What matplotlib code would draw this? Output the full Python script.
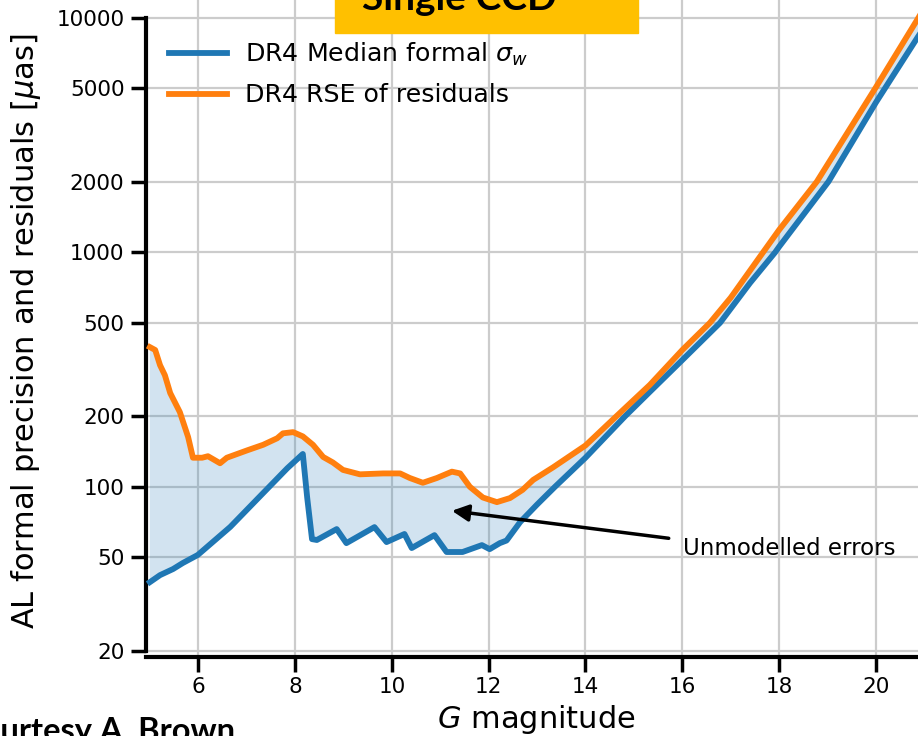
import numpy as np
import matplotlib
matplotlib.use("Agg")
import matplotlib.pyplot as plt
from matplotlib.patches import Rectangle
from matplotlib.ticker import NullLocator

# ----------------------------
# Data: single-CCD along-scan precision vs G magnitude
# ----------------------------
g_formal = [5.0, 5.21, 5.48, 5.68, 5.99, 6.66, 7.34, 7.84, 8.16, 8.25, 8.35, 8.45,
            8.86, 9.06, 9.64, 9.89, 10.26, 10.41, 10.88, 11.13, 11.46, 11.86, 12.02,
            12.23, 12.37, 12.65, 13.0, 13.37, 14.0, 14.82, 15.33, 16.0, 16.78, 17.4,
            17.92, 18.0, 19.02, 20.0, 20.87, 21.0]
sigma_formal = [39.2, 42.0, 44.6, 47.3, 51.2, 67.4, 94, 120, 138, 90, 59.8, 59.3,
                66, 57.5, 67.3, 58.1, 62.9, 54.8, 62.2, 52.7, 52.7, 56.4, 54.2,
                57.5, 59, 70.7, 84, 100, 133, 200, 254, 347, 500, 740,
                1000, 1055, 2000, 4350, 8300, 9100]

g_rse = [5.0, 5.11, 5.21, 5.31, 5.42, 5.62, 5.79, 5.89, 6.08, 6.2, 6.45, 6.59,
         7.01, 7.34, 7.63, 7.75, 7.96, 8.16, 8.37, 8.58, 8.78, 8.99, 9.34, 9.82,
         10.17, 10.37, 10.64, 10.93, 11.24, 11.41, 11.61, 11.88, 12.17, 12.44,
         12.7, 12.92, 13.33, 14.0, 14.64, 15.33, 16.0, 16.57, 17.0, 17.67, 18.0,
         18.78, 20.0, 20.87, 21.0]
rse_resid = [394, 383, 330, 299, 251, 208, 163, 133, 133, 135, 126, 133,
             143, 151, 161, 169, 171, 164, 151, 134, 127, 118, 113, 114,
             114, 109, 104, 109, 116, 114, 100, 90, 86, 89.5,
             97, 107, 121, 150, 200, 272, 383, 500, 640, 1000, 1245,
             2000, 5050, 9930, 11000]

xticks = [6, 8, 10, 12, 14, 16, 18, 20]
yticks = [20, 50, 100, 200, 500, 1000, 2000, 5000, 10000]

labels = [r"DR4 Median formal $\sigma_w$", "DR4 RSE of residuals"]

# ----------------------------
# Figure and axes
# ----------------------------
plt.rcParams["font.family"] = ["DejaVu Sans"]
fig = plt.figure(figsize=(9.18, 7.36), dpi=100)
ax = fig.add_axes([146 / 918, 79 / 736, 772 / 918, 657 / 736])

blue = "#1f77b4"
orange = "#ff7f0e"

# shaded gap between formal errors and residuals
poly_x = np.concatenate([g_formal, g_rse[::-1]])
poly_y = np.concatenate([sigma_formal, rse_resid[::-1]])
ax.fill(poly_x, poly_y, color=blue, alpha=0.2, linewidth=0, zorder=1)

ax.plot(g_formal, sigma_formal, color=blue, lw=4.2, label=labels[0], zorder=3,
        solid_joinstyle="round")
ax.plot(g_rse, rse_resid, color=orange, lw=4.2, label=labels[1], zorder=3,
        solid_joinstyle="round")

ax.set_yscale("log")
ax.set_xlim(4.92, 20.87)
ax.set_ylim(18.8, 11900)
ax.set_xticks(xticks)
ax.set_xticklabels([str(t) for t in xticks])
ax.set_yticks(yticks)
ax.set_yticklabels([str(t) for t in yticks])
ax.yaxis.set_minor_locator(NullLocator())

ax.grid(True, color="#cccccc", linewidth=1.6)
ax.set_axisbelow(True)

for side in ["top", "right"]:
    ax.spines[side].set_visible(False)
ax.spines["left"].set_bounds(20, 10000)
ax.spines["left"].set_linewidth(3)
ax.spines["bottom"].set_linewidth(3)
ax.tick_params(axis="both", which="major", labelsize=15.5, length=10.5, width=2.5,
               direction="out")
ax.tick_params(axis="y", pad=5)
ax.tick_params(axis="x", pad=4)

ax.set_ylabel(r"AL formal precision and residuals [$\mu$as]", fontsize=22)
ax.yaxis.set_label_coords(-0.133, 0.496)
ax.set_xlabel(r"$G$ magnitude", fontsize=22)
ax.xaxis.set_label_coords(0.506, -0.07)

ax.legend(loc="upper left", bbox_to_anchor=(0.0, 0.973), frameon=False,
          fontsize=18.2, handlelength=2.3, handletextpad=0.7, labelspacing=0.62)

# arrow pointing into the shaded region
ax.annotate("", xy=(11.24, 79), xytext=(15.72, 60.3),
            arrowprops=dict(arrowstyle="-|>,head_length=0.5,head_width=0.25",
                            color="black", lw=2.5, mutation_scale=20,
                            shrinkA=0, shrinkB=0), zorder=4)
ax.text(16.02, 54.8, "Unmodelled errors", fontsize=16.5, ha="left", va="center")

# slide title box and credit line
fig.patches.append(Rectangle((335 / 918, 1 - 32.7 / 736), 303 / 918, 40 / 736,
                             transform=fig.transFigure, color="#ffc000",
                             zorder=5))
fig.text(459 / 918, 1 - 10 / 736, "Single CCD", fontsize=28, family="Lato",
         weight="bold", ha="center", va="baseline", zorder=6)
fig.text(235 / 918, 1 - 741 / 736, "Courtesy A. Brown", fontsize=23.5,
         family="Lato", weight="bold", ha="right", va="baseline")

fig.savefig("out.png", dpi=100)
